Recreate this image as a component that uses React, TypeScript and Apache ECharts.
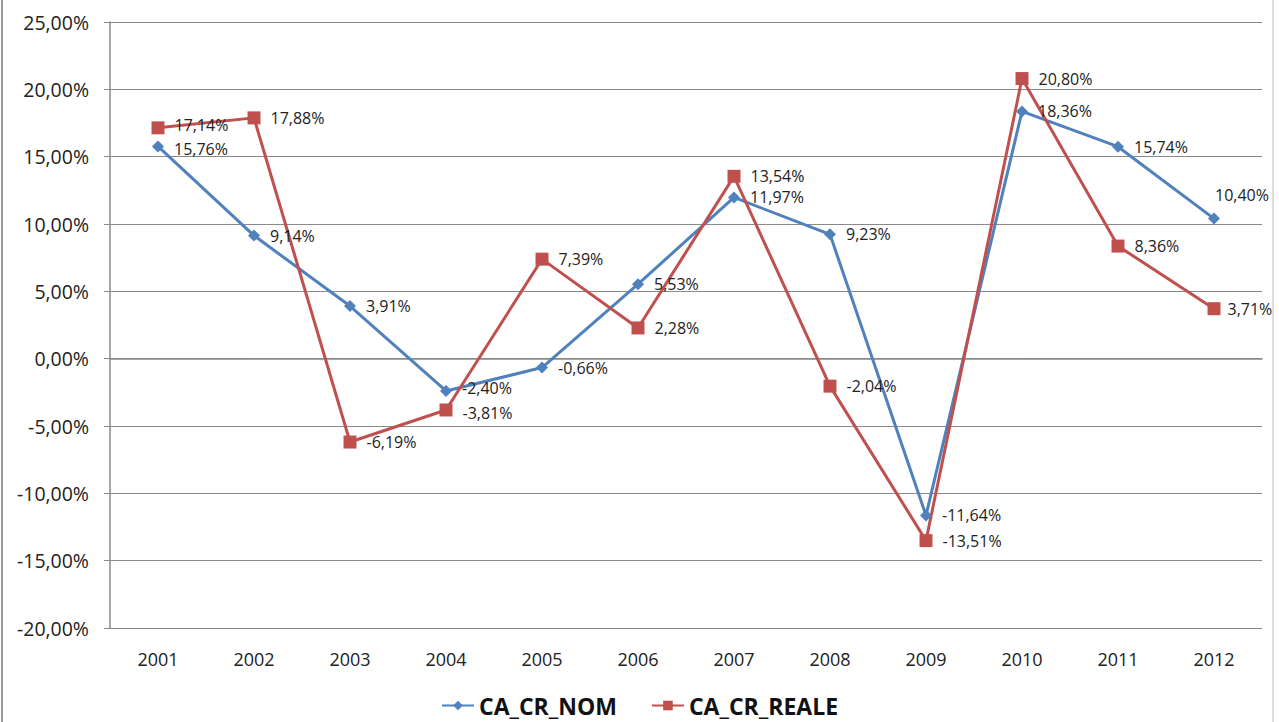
import React, { useEffect, useRef } from "react";
import * as echarts from "echarts";

const years = ["2001", "2002", "2003", "2004", "2005", "2006", "2007", "2008", "2009", "2010", "2011", "2012"];
const nom = [15.76, 9.14, 3.91, -2.4, -0.66, 5.53, 11.97, 9.23, -11.64, 18.36, 15.74, 10.4];
const reale = [17.14, 17.88, -6.19, -3.81, 7.39, 2.28, 13.54, -2.04, -13.51, 20.8, 8.36, 3.71];

const fmt = (v: number) => v.toFixed(2).replace(".", ",") + "%";
const FONT = "'Open Sans', 'Noto Sans', sans-serif";

export default function App() {
  const ref = useRef<HTMLDivElement>(null);
  useEffect(() => {
    const chart = echarts.init(ref.current!, null, { renderer: "svg" });
    const nomData = nom.map((v, i) => {
      if (i === nom.length - 1) return { value: v, label: { position: "top", distance: 10, offset: [28, 0] } };
      if (i === 0) return { value: v, label: { offset: [0, 3] } };
      if (i === 3) return { value: v, label: { offset: [0, -3] } };
      return v;
    });
    const realeData = reale.map((v, i) => {
      if (i === 0) return { value: v, label: { offset: [0, -3] } };
      if (i === 3) return { value: v, label: { offset: [0, 3] } };
      if (i === reale.length - 1) return { value: v, label: { distance: 7 } };
      return v;
    });
    chart.setOption({
      animation: false,
      backgroundColor: "#fff",
      graphic: [
        { type: "line", shape: { x1: 2, y1: 0, x2: 2, y2: 722 }, style: { stroke: "#999", lineWidth: 2 } },
        { type: "line", shape: { x1: 1273, y1: 0, x2: 1273, y2: 722 }, style: { stroke: "#bbb", lineWidth: 1 } },
      ],
      grid: { left: 110, right: 17, top: 22, bottom: 94 },
      legend: {
        bottom: 0,
        left: "center",
        itemGap: 34,
        itemWidth: 32,
        itemHeight: 12,
        textStyle: { fontFamily: FONT, fontWeight: "bold", fontSize: 23, color: "#111" },
        data: ["CA_CR_NOM", "CA_CR_REALE"],
      },
      xAxis: {
        type: "category",
        data: years,
        boundaryGap: true,
        axisLine: { lineStyle: { color: "#888", width: 1.5 } },
        axisTick: { show: false },
        axisLabel: { color: "#222", fontFamily: FONT, fontSize: 18, margin: 22 },
        splitLine: { show: false },
      },
      yAxis: {
        type: "value",
        min: -20,
        max: 25,
        interval: 5,
        axisLine: { show: true, lineStyle: { color: "#888", width: 1.5 } },
        axisTick: { show: true, length: 6, lineStyle: { color: "#888" } },
        axisLabel: { color: "#222", fontFamily: FONT, fontSize: 19.5, margin: 21, formatter: (v: number) => fmt(v) },
        splitLine: { lineStyle: { color: "#8a8a8a", width: 1.2 } },
      },
      series: [
        {
          name: "CA_CR_NOM",
          type: "line",
          data: nomData,
          color: "#4F81BD",
          symbol: "diamond",
          symbolSize: 12,
          lineStyle: { width: 3, color: "#4F81BD" },
          itemStyle: { color: "#4F81BD" },
          label: {
            show: true,
            position: "right",
            distance: 10,
            fontFamily: FONT,
            fontSize: 16,
            lineHeight: 16,
            color: "#222",
            formatter: (p: any) => fmt(p.value),
          },
        },
        {
          name: "CA_CR_REALE",
          type: "line",
          data: realeData,
          color: "#C0504D",
          symbol: "rect",
          symbolSize: 13,
          lineStyle: { width: 3, color: "#C0504D" },
          itemStyle: { color: "#C0504D" },
          label: {
            show: true,
            position: "right",
            distance: 10,
            fontFamily: FONT,
            fontSize: 16,
            lineHeight: 16,
            color: "#222",
            formatter: (p: any) => fmt(p.value),
          },
        },
      ],
    });
    return () => chart.dispose();
  }, []);
  return <div ref={ref} style={{ width: 1279, height: 722, position: "absolute", left: 0, top: 0 }} />;
}
